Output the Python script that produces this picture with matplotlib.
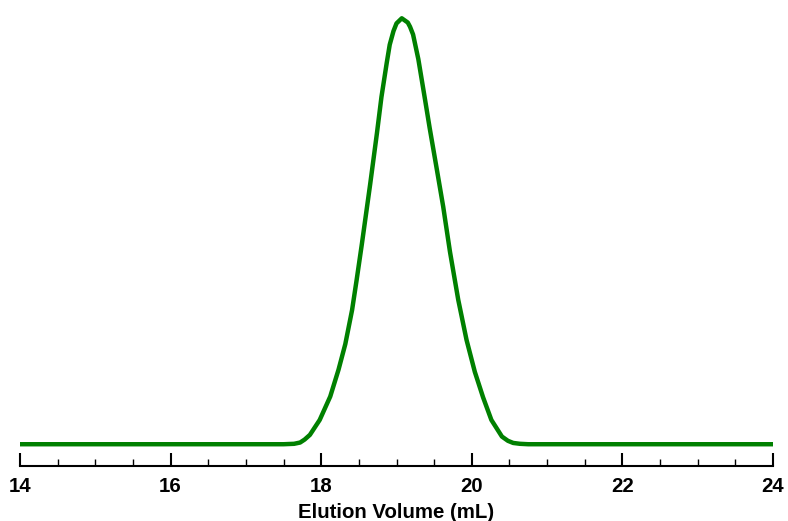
import numpy as np
import matplotlib
matplotlib.use("Agg")
import matplotlib.pyplot as plt
from matplotlib.ticker import MultipleLocator

plt.rcParams['font.family'] = ['Liberation Sans', 'DejaVu Sans']

# elution volume (mL) and detector signal (relative)
volume = [14.0, 17.5, 17.64, 17.72, 17.78, 17.85, 17.98, 18.12, 18.23, 18.32,
          18.41, 18.47, 18.54, 18.65, 18.74, 18.80, 18.87, 18.91, 18.96, 19.0,
          19.07, 19.15, 19.18, 19.22, 19.29, 19.38, 19.44, 19.53, 19.62, 19.71,
          19.82, 19.93, 20.04, 20.15, 20.26, 20.40, 20.48, 20.55, 20.64, 20.75, 24.0]
signal = [0.0, 0.0, 0.1, 0.4, 1.1, 2.2, 5.7, 11.2, 17.5, 23.5,
          31.5, 38.5, 47.0, 61.0, 73.0, 81.5, 89.5, 93.8, 97.0, 98.8,
          100.0, 99.0, 98.0, 96.2, 90.4, 80.8, 74.3, 65.1, 55.8, 45.2,
          33.9, 24.5, 17.0, 11.0, 5.7, 1.8, 0.8, 0.3, 0.1, 0.0, 0.0]

fig = plt.figure(figsize=(7.88, 5.21), dpi=100)
ax = fig.add_axes([20 / 788, 55 / 521, 753 / 788, 456 / 521])

ax.plot(volume, signal, color='#008000', linewidth=3.2, solid_joinstyle='round')

ax.set_xlim(14, 24)
ax.set_ylim(-21.8 / 4.265, 100 + 8.3 / 4.265)

for s in ['top', 'right', 'left']:
    ax.spines[s].set_visible(False)
ax.spines['bottom'].set_linewidth(1.5)
ax.set_yticks([])

ax.xaxis.set_major_locator(MultipleLocator(2))
ax.xaxis.set_minor_locator(MultipleLocator(0.5))
ax.tick_params(axis='x', which='major', direction='in', length=9.5, width=1.5,
               pad=8, labelsize=14.7)
ax.tick_params(axis='x', which='minor', direction='in', length=5, width=1.0)
for lab in ax.get_xticklabels():
    lab.set_fontweight('bold')

ax.set_xlabel("Elution Volume (mL)", fontsize=14.7, fontweight='bold', labelpad=5)

fig.savefig("out.png", dpi=100)
